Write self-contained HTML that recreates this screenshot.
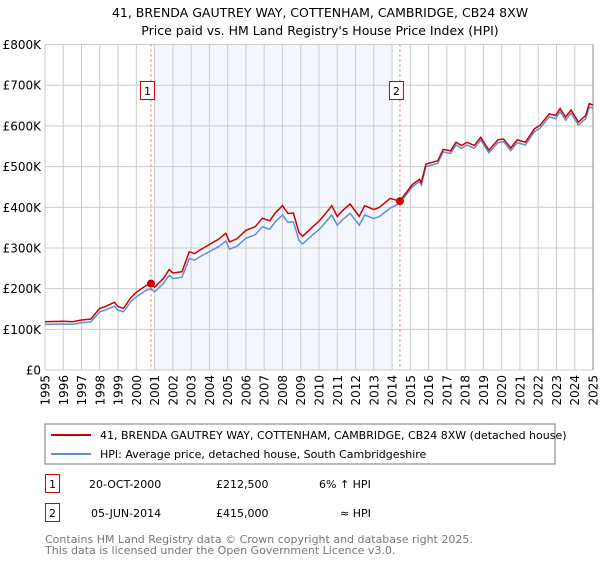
<!DOCTYPE html>
<html><head><meta charset="utf-8"><style>
body{margin:0;background:#fff;font-family:"Liberation Sans","DejaVu Sans",sans-serif;}
svg text{font-family:"DejaVu Sans","Liberation Sans",sans-serif;}
</style></head><body>
<svg id="c" width="600" height="560" xmlns="http://www.w3.org/2000/svg">
<text x="320" y="17" text-anchor="middle" font-size="12.5" fill="#000">41, BRENDA GAUTREY WAY, COTTENHAM, CAMBRIDGE, CB24 8XW</text>
<text x="320" y="35" text-anchor="middle" font-size="12.5" fill="#000">Price paid vs. HM Land Registry's House Price Index (HPI)</text>
<g id="plot"></g>
<rect x="45" y="424" width="510" height="40" fill="#fff" stroke="#777"/>
<line x1="51" y1="435" x2="91" y2="435" stroke="#cc0000" stroke-width="2"/>
<text x="100" y="439" font-size="11">41, BRENDA GAUTREY WAY, COTTENHAM, CAMBRIDGE, CB24 8XW (detached house)</text>
<line x1="51" y1="454" x2="91" y2="454" stroke="#6090d0" stroke-width="2"/>
<text x="100" y="458" font-size="11">HPI: Average price, detached house, South Cambridgeshire</text>
<rect x="45.5" y="474.5" width="14" height="18" fill="#fff" stroke="#cc0000"/>
<text x="52.5" y="488" text-anchor="middle" font-size="11">1</text>
<text x="89" y="488" font-size="11">20-OCT-2000</text>
<text x="216" y="488" font-size="11">£212,500</text>
<text x="319" y="488" font-size="11">6% ↑ HPI</text>
<rect x="45.5" y="503.5" width="14" height="18" fill="#fff" stroke="#cc0000"/>
<text x="52.5" y="517" text-anchor="middle" font-size="11">2</text>
<text x="91" y="517" font-size="11">05-JUN-2014</text>
<text x="216" y="517" font-size="11">£415,000</text>
<text x="340" y="517" font-size="11">≈ HPI</text>
<text x="45" y="543" font-size="11" fill="#777">Contains HM Land Registry data © Crown copyright and database right 2025.</text>
<text x="45" y="554" font-size="11" fill="#777">This data is licensed under the Open Government Licence v3.0.</text>
</svg>
<script>
const hpiYears=[1995,1996,1996.5,1997,1997.5,1998,1998.3,1998.8,1999,1999.3,1999.7,2000,2000.5,2000.8,2001,2001.5,2001.8,2002,2002.5,2002.9,2003.2,2003.5,2004,2004.5,2004.9,2005.1,2005.5,2006,2006.5,2006.9,2007.3,2007.6,2008,2008.3,2008.6,2008.9,2009.1,2009.6,2010,2010.3,2010.7,2011,2011.3,2011.7,2012.2,2012.5,2013,2013.3,2013.9,2014.43,2015.1,2015.5,2015.6,2015.85,2016.5,2016.8,2017.2,2017.5,2017.8,2018.1,2018.5,2018.85,2019.3,2019.8,2020.1,2020.5,2020.85,2021.3,2021.8,2022.1,2022.6,2022.95,2023.2,2023.5,2023.8,2024.2,2024.6,2024.8,2025];
const hpiValues=[112,113,112,116,118,143,147,157,147,143,168,180,195,200.5,192,213,233,225,228,274,270,279,291,303,317,297,304,324,332,352,346,364,381,363,364,319,310,330,345,360,381,356,370,385,356,381,372,377,398,410,450,463,455,500,508,536,532,553,545,553,545,565,534,559,561,539,559,553,586,594,622,618,635,614,631,602,618,647,643];
const sales=[{t:2000.8,p:212.5},{t:2014.43,p:415}];
const yTicks=[0,100,200,300,400,500,600,700,800];
const yTickLabels=["£0","£100K","£200K","£300K","£400K","£500K","£600K","£700K","£800K"];
const xYears=[1995,1996,1997,1998,1999,2000,2001,2002,2003,2004,2005,2006,2007,2008,2009,2010,2011,2012,2013,2014,2015,2016,2017,2018,2019,2020,2021,2022,2023,2024,2025];

const L=45,R=593,T=44.5,B=370;
const xs=t=>L+(t-1995)/30*(R-L);
const ys=v=>B-v/800*(B-T);
const NS="http://www.w3.org/2000/svg";
const g=document.getElementById('plot');
function mk(tag,attrs,name){const e=document.createElementNS(NS,tag);for(const k in attrs)e.setAttribute(k,attrs[k]);


g.appendChild(e);return e;}
mk('rect',{x:L,y:T,width:R-L,height:B-T,fill:'#fff'},'plot-background');
mk('rect',{x:xs(2001),y:T,width:xs(2014)-xs(2001),height:B-T,fill:'#eef3fc',opacity:0.7},'shaded-period');
yTicks.forEach((v,i)=>{
  mk('line',{x1:L,x2:R,y1:ys(v),y2:ys(v),stroke:'#ccc'},'y-gridline');
  const t=mk('text',{x:L-4,y:ys(v)+4.5,'text-anchor':'end','font-size':12},'y-tick-label');t.textContent=yTickLabels[i];
});
xYears.forEach(y=>{
  mk('line',{x1:xs(y),x2:xs(y),y1:T,y2:B,stroke:'#ccc'},'x-gridline');
  const t=mk('text',{x:0,y:0,'text-anchor':'end','font-size':12,transform:`translate(${xs(y)+4.5},${B+5}) rotate(-90)`},'x-tick-label');t.textContent=y;
});
mk('line',{x1:R,x2:R,y1:T,y2:B,stroke:'#888'},'right-axis');
function hpiAt(t){for(let i=0;i<hpiYears.length-1;i++){if(t>=hpiYears[i]&&t<=hpiYears[i+1]){const f=(t-hpiYears[i])/(hpiYears[i+1]-hpiYears[i]);return hpiValues[i]+f*(hpiValues[i+1]-hpiValues[i]);}}return hpiValues[hpiValues.length-1];}
const r1=sales[0].p/hpiAt(sales[0].t), r2=sales[1].p/hpiAt(sales[1].t);
const bp=hpiYears.map((t,i)=>xs(t).toFixed(1)+','+ys(hpiValues[i]).toFixed(1)).join(' ');
const rp=hpiYears.map((t,i)=>xs(t).toFixed(1)+','+ys(hpiValues[i]*(t<sales[1].t?r1:r2)).toFixed(1)).join(' ');
mk('polyline',{points:bp,fill:'none',stroke:'#6090d0','stroke-width':1.5},'hpi-line');
mk('polyline',{points:rp,fill:'none',stroke:'#cc0000','stroke-width':1.5},'price-line');
sales.forEach((s,i)=>{
  mk('line',{x1:xs(s.t),x2:xs(s.t),y1:T,y2:B,stroke:'#f06060','stroke-dasharray':'2,3'},'sale-'+(i+1)+'-vline');
  mk('rect',{x:xs(s.t)-10.5,y:81.5,width:14,height:18,fill:'#fff',stroke:'#cc0000'},'sale-'+(i+1)+'-annotation-box');
  const t=mk('text',{x:xs(s.t)-3.5,y:95,'text-anchor':'middle','font-size':11},'sale-'+(i+1)+'-annotation');t.textContent=i+1;
  mk('circle',{cx:xs(s.t),cy:ys(s.p),r:4,fill:'#cc0000'},'sale-'+(i+1)+'-point');
});
</script>
</body></html>
